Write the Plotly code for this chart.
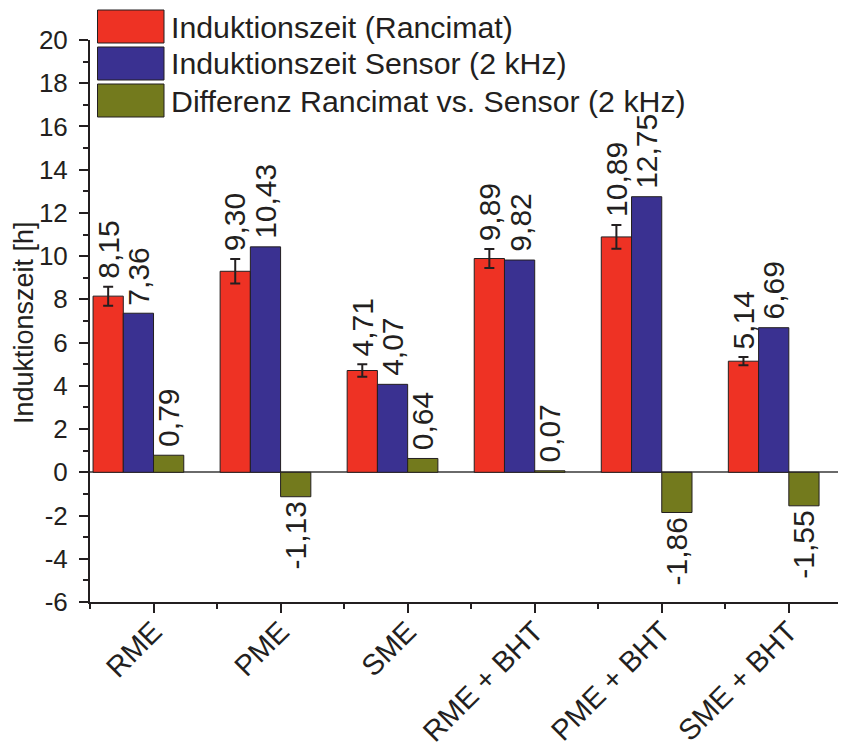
import plotly.graph_objects as go

# ---------------- data ----------------
categories = ["RME", "PME", "SME", "RME + BHT", "PME + BHT", "SME + BHT"]
rancimat = [8.15, 9.30, 4.71, 9.89, 10.89, 5.14]
rancimat_err = [0.44, 0.57, 0.29, 0.44, 0.55, 0.19]
sensor = [7.36, 10.43, 4.07, 9.82, 12.75, 6.69]
differenz = [0.79, -1.13, 0.64, 0.07, -1.86, -1.55]
series_names = [
    "Induktionszeit (Rancimat)",
    "Induktionszeit Sensor (2 kHz)",
    "Differenz Rancimat vs. Sensor (2 kHz)",
]
y_tick_values = [-6, -4, -2, 0, 2, 4, 6, 8, 10, 12, 14, 16, 18, 20]
y_tick_labels = ["-6", "-4", "-2", "0", "2", "4", "6", "8", "10", "12", "14", "16", "18", "20"]
y_title = "Induktionszeit [h]"

# ---------------- style ----------------
# the page adds an 8px body margin, so the figure is 8px smaller and everything
# is placed 8px up/left of the target page position
OFF = 8
W, H = 846 - OFF, 755 - OFF
ML, MR, MT = 90 - OFF, 0, 40 - OFF
MB = H - (602 - OFF)
FONT = "Liberation Sans, Arial, Helvetica, sans-serif"
INK = "#231F20"
colors = ["#EE3224", "#3A3191", "#737A1D"]
bw = 0.238
offsets = [-2 * bw, -bw, 0.0]

x = list(range(len(categories)))
series = [rancimat, sensor, differenz]
errors = [rancimat_err, None, None]

fig = go.Figure()
for name, vals, col, off, err in zip(series_names, series, colors, offsets, errors):
    fig.add_trace(go.Bar(
        x=x, y=vals, name=name, width=bw, offset=off,
        marker=dict(color=col, line=dict(color=INK, width=1)),
        error_y=dict(type="data", array=err if err else [0] * len(vals),
                     visible=err is not None, color=INK, thickness=2, width=5),
        showlegend=False,
    ))

# value labels
annotations = []
for vals, off, err in zip(series, offsets, errors):
    for i, v in enumerate(vals):
        top = v + (err[i] if err else 0)
        txt = f"{v:.2f}".replace(".", ",")
        if v >= 0:
            annotations.append(dict(x=i + off + bw / 2, y=top, xref="x", yref="y",
                                    text=txt, textangle=-90, showarrow=False,
                                    xanchor="center", yanchor="bottom", yshift=6,
                                    font=dict(family=FONT, size=30, color=INK)))
        else:
            annotations.append(dict(x=i + off + bw / 2, y=v, xref="x", yref="y",
                                    text=txt, textangle=-90, showarrow=False,
                                    xanchor="center", yanchor="top", yshift=-3,
                                    font=dict(family=FONT, size=30, color=INK)))

# custom legend with large swatches (positions given in page pixels)
pw = W - ML - MR
ph = H - MT - MB
def px_x(p):
    return (p - OFF - ML) / pw
def px_y(p):
    return (H - MB - (p - OFF)) / ph

shapes = []
row_tops = [10, 47, 84]
for name, col, top in zip(series_names, colors, row_tops):
    shapes.append(dict(type="rect", xref="paper", yref="paper",
                       x0=px_x(97.5), x1=px_x(164), y0=px_y(top + 33), y1=px_y(top),
                       fillcolor=col, line=dict(color=INK, width=1)))
    annotations.append(dict(x=px_x(169), y=px_y(top + 17), xref="paper", yref="paper",
                            text=name, showarrow=False, xanchor="left", yanchor="middle",
                            font=dict(family=FONT, size=30.3, color=INK)))

# y-axis title placed as rotated text left of the tick labels
annotations.append(dict(x=px_x(24), y=px_y(323), xref="paper", yref="paper",
                        text=y_title, textangle=-90, showarrow=False,
                        xanchor="center", yanchor="middle", borderpad=0,
                        font=dict(family=FONT, size=27, color=INK)))

fig.update_layout(
    width=W, height=H,
    margin=dict(l=ML, r=MR, t=MT, b=MB, pad=0),
    paper_bgcolor="white", plot_bgcolor="white",
    barmode="overlay",
    font=dict(family=FONT, color=INK),
    shapes=shapes,
    annotations=annotations,
    xaxis=dict(
        range=[-0.5, 5.45], tickmode="array", tickvals=x, ticktext=categories,
        tickangle=-45, ticks="outside", ticklen=9, tickwidth=2, tickcolor=INK,
        showline=True, linewidth=2, linecolor=INK, showgrid=False, zeroline=False,
        tickfont=dict(family=FONT, size=29, color=INK), automargin=False,
        ticklabelstandoff=-10,
        minor=dict(tickmode="linear", tick0=0.5, dtick=1, ticks="outside",
                   ticklen=5, tickwidth=2, tickcolor=INK, showgrid=False),
    ),
    yaxis=dict(
        range=[-6, 20], tickmode="array", tickvals=y_tick_values, ticktext=y_tick_labels,
        ticks="outside", ticklen=9, tickwidth=2, ticklabelstandoff=6,
        tickcolor=INK, showline=True, linewidth=2, linecolor=INK, showgrid=False,
        zeroline=True, zerolinecolor="#6a6a6a", zerolinewidth=1.5,
        tickfont=dict(family=FONT, size=26, color=INK), automargin=False,
        minor=dict(tickmode="linear", tick0=0, dtick=1, ticks="outside", ticklen=5,
                   tickwidth=2, tickcolor=INK, showgrid=False),
    ),
)

fig.write_html("out.html")
